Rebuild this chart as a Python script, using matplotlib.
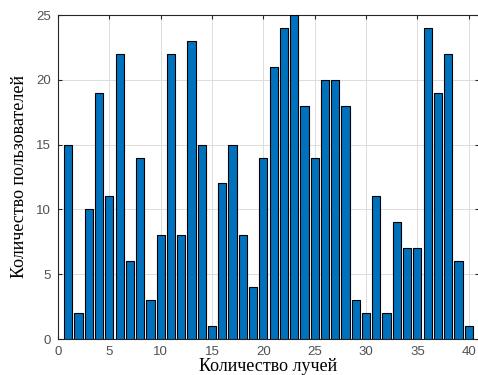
import matplotlib.pyplot as plt

# number of users per beam count
beams = list(range(1, 41))
users = [15, 2, 10, 19, 11, 22, 6, 14, 3, 8,
         22, 8, 23, 15, 1, 12, 15, 8, 4, 14,
         21, 24, 25, 18, 14, 20, 20, 18, 3, 2,
         11, 2, 9, 7, 7, 24, 19, 22, 6, 1]
xticks = [0, 5, 10, 15, 20, 25, 30, 35, 40]
yticks = [0, 5, 10, 15, 20, 25]

fig = plt.figure(figsize=(4.78, 3.75), dpi=100)
ax = fig.add_axes([58 / 478, 36 / 375, 421 / 478, 324 / 375])

ax.bar(beams, users, width=0.8, color='#0072BD', edgecolor='black', linewidth=0.8, zorder=3)

ax.set_xlim(0, 41)
ax.set_ylim(0, 25)
ax.set_xticks(xticks)
ax.set_yticks(yticks)
ax.grid(True, color='#dcdcdc', linewidth=0.7, zorder=0)
ax.tick_params(direction='in', length=3, colors='#262626', labelcolor='#505050',
               labelsize=9.5, top=True, right=True)
ax.tick_params(axis='x', pad=5)
ax.tick_params(axis='y', pad=5)
for lbl in ax.get_xticklabels() + ax.get_yticklabels():
    lbl.set_family('Liberation Sans')
for s in ax.spines.values():
    s.set_color('#262626')
    s.set_linewidth(0.8)

ax.set_xlabel('Количество лучей', family='Liberation Serif', fontsize=13, labelpad=0)
ax.set_ylabel('Количество пользователей', family='Liberation Serif', fontsize=13, labelpad=6)

fig.savefig('out.png', dpi=100)
